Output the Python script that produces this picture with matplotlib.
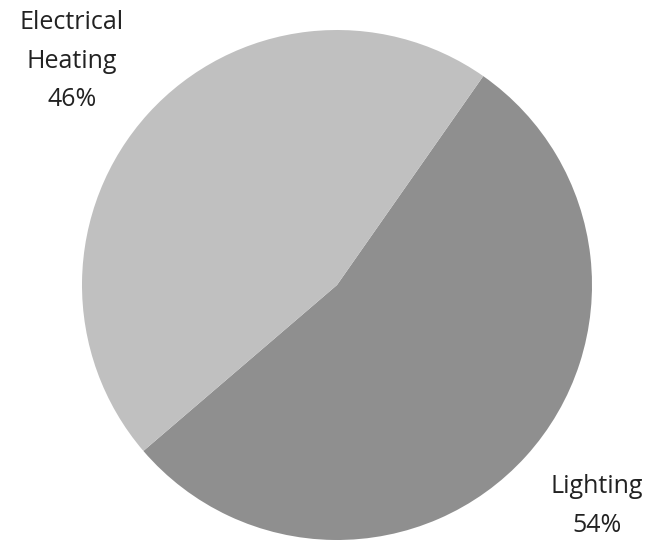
import matplotlib
matplotlib.use("Agg")
import matplotlib.pyplot as plt

categories = ["Lighting", "Electrical Heating"]
values = [54, 46]
label_texts = ["Lighting\n54%", "Electrical\nHeating\n46%"]
colors = ["#8f8f8f", "#c0c0c0"]

plt.rcParams['font.family'] = ['Open Sans', 'DejaVu Sans']

W, H = 661, 540
fig = plt.figure(figsize=(W / 100, H / 100), dpi=100)
cx, cy, r = 337, 285, 255
ax = fig.add_axes([(cx - r) / W, (H - cy - r) / H, 2 * r / W, 2 * r / H])
ax.pie(values, colors=colors, startangle=55, counterclock=False, radius=1,
       wedgeprops=dict(linewidth=0))
ax.set_xlim(-1, 1)
ax.set_ylim(-1, 1)
ax.set_aspect('equal')
ax.axis('off')

fig.text(597 / W, 1 - 506 / H, label_texts[0], ha='center', va='center',
         fontsize=18, color='#222222', linespacing=1.72)
fig.text(72 / W, 1 - 61 / H, label_texts[1], ha='center', va='center',
         fontsize=18, color='#222222', linespacing=1.72)

fig.savefig("out.png", dpi=100)
